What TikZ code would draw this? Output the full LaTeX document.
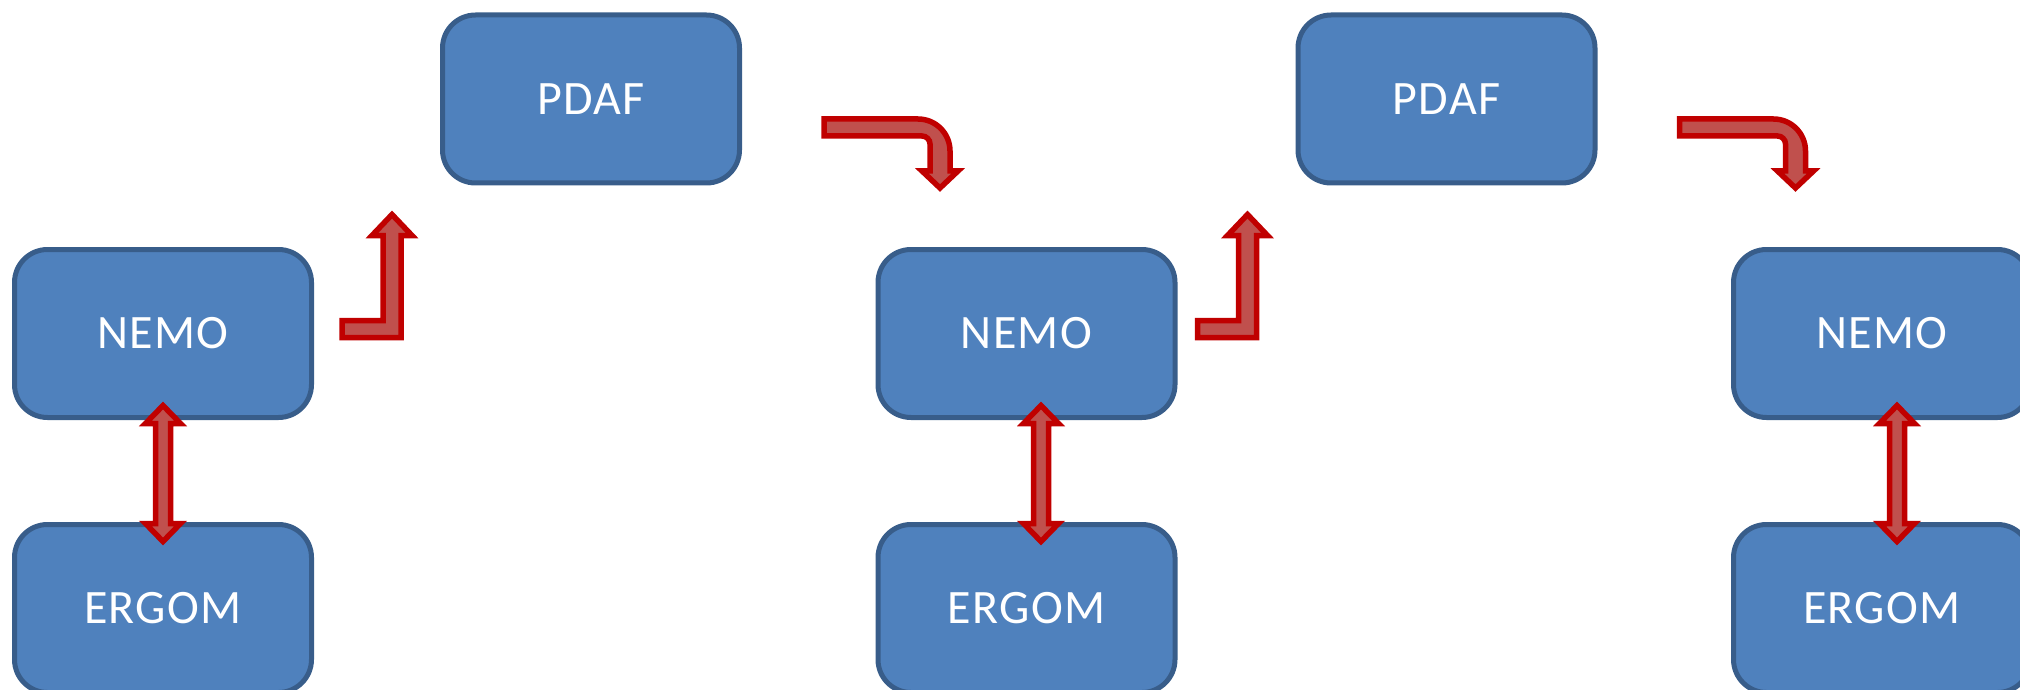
\documentclass[tikz,border=0pt]{standalone}
\usepackage{fontspec}
\setmainfont{Carlito}[LetterSpace=3]
\usetikzlibrary{positioning,calc}

\definecolor{boxfill}{HTML}{4F81BD}
\definecolor{boxline}{HTML}{385D8A}
\definecolor{arrfill}{HTML}{C0504D}
\definecolor{arrline}{HTML}{C00000}

\tikzset{
  model/.style={draw=boxline, fill=boxfill, line width=2.5pt, rounded corners=16.5pt,
    minimum width=148.5pt, minimum height=84pt, text=white,
    font=\fontsize{24pt}{28pt}\selectfont},
  blockarrow/.style={draw=arrline, fill=arrfill, line width=2.75pt, line join=miter}
}

\begin{document}
\begin{tikzpicture}[x=0.5pt, y=-0.5pt]
  \useasboundingbox (0,0) rectangle (2020,690);
  % ocean model coupled to the biogeochemistry, two-way
  \foreach \i/\x/\d in {1/163/0, 2/1026.5/14.5, 3/1882/15} {
    \node[model] (nemo\i) at (\x,333.5) {NEMO};
    \node[model, below=51pt of nemo\i] (ergom\i) {ERGOM};
    \coordinate (up\i) at ($(nemo\i.south)+(\d,-14.5)$);
    \coordinate (dn\i) at ($(ergom\i.north)+(\d,19.5)$);
    \draw[blockarrow] (up\i) -- ++(17.5,18) -- ++(-10,0) -- ($(dn\i)+(7.5,-18)$)
      -- ++(10,0) -- (dn\i) -- ++(-17.5,-18) -- ++(10,0) -- ($(up\i)+(-7.5,18)$)
      -- ++(-10,0) -- cycle;
  }
  % assimilation steps in between
  \node[model] (pdaf1) at (591,99) {PDAF};
  \node[model] (pdaf2) at (1446.5,99) {PDAF};
  \foreach \i in {1,2} {
    % bent arrow up into PDAF
    \begin{scope}[shift={(pdaf\i.south west)}]
      \draw[blockarrow] (-98,152) -- (-98,135) -- (-57,135) -- (-57,50) -- (-68,50)
        -- (-48,29) -- (-28,50) -- (-39,50) -- (-39,152) -- cycle;
    \end{scope}
    % curved arrow back down to the next NEMO
    \begin{scope}[shift={(pdaf\i.east)}]
      \draw[blockarrow] (82,20) -- (176,20) .. controls (193.7,20) and (208,34.3) .. (208,52)
        -- (208,72) -- (216,72) -- (198,89) -- (180,72) -- (188,72) -- (188,45)
        .. controls (188,40.6) and (184.4,37) .. (180,37) -- (82,37) -- cycle;
    \end{scope}
  }
\end{tikzpicture}
\end{document}
